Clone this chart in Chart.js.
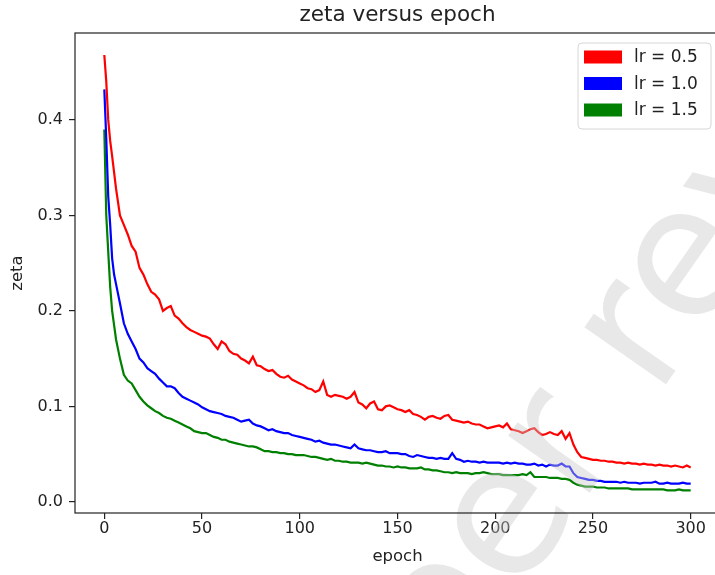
<!DOCTYPE html>
<html>
<head>
<meta charset="utf-8">
<title>zeta versus epoch</title>
<script src="https://cdn.jsdelivr.net/npm/chart.js@4.4.1/dist/chart.umd.min.js"></script>
<style>
  html, body { margin: 0; padding: 0; background: #fff; overflow: hidden; }
  #wrap { width: 740px; height: 575px; }
</style>
</head>
<body>
<div id="wrap"><canvas id="zeta-chart" width="740" height="575"></canvas></div>
<script>
const chartTitle = 'zeta versus epoch';
const watermarkText = 'Peer review';
const seriesLabels = ['lr = 0.5', 'lr = 1.0', 'lr = 1.5'];
const xTicks = [0, 50, 100, 150, 200, 250, 300];
const yTicks = [0.0, 0.1, 0.2, 0.3, 0.4];

const epochs = [0, 1, 2, 3, 4, 5, 6,
  8, 10, 12, 14, 16, 18, 20, 22, 24, 26,
  28, 30, 32, 34, 36, 38, 40, 42, 44, 46,
  48, 50, 52, 54, 56, 58, 60, 62, 64, 66,
  68, 70, 72, 74, 76, 78, 80, 82, 84, 86,
  88, 90, 92, 94, 96, 98, 100, 102, 104, 106,
  108, 110, 112, 114, 116, 118, 120, 122, 124, 126,
  128, 130, 132, 134, 136, 138, 140, 142, 144, 146,
  148, 150, 152, 154, 156, 158, 160, 162, 164, 166,
  168, 170, 172, 174, 176, 178, 180, 182, 184, 186,
  188, 190, 192, 194, 196, 198, 200, 202, 204, 206,
  208, 210, 212, 214, 216, 218, 220, 222, 224, 226,
  228, 230, 232, 234, 236, 238, 240, 242, 244, 246,
  248, 250, 252, 254, 256, 258, 260, 262, 264, 266,
  268, 270, 272, 274, 276, 278, 280, 282, 284, 286,
  288, 290, 292, 294, 296, 298, 300];

const zetaLr05 = [0.468, 0.440, 0.400, 0.378, 0.362, 0.345, 0.328,
  0.300, 0.290, 0.280, 0.268, 0.262, 0.245, 0.238, 0.228, 0.220, 0.217,
  0.212, 0.200, 0.203, 0.205, 0.195, 0.192, 0.187, 0.183, 0.180, 0.178,
  0.176, 0.174, 0.173, 0.171, 0.165, 0.160, 0.168, 0.165, 0.158, 0.155,
  0.154, 0.150, 0.148, 0.145, 0.152, 0.143, 0.142, 0.139, 0.137, 0.138,
  0.134, 0.131, 0.130, 0.132, 0.128, 0.126, 0.124, 0.122, 0.119, 0.118,
  0.115, 0.117, 0.126, 0.112, 0.110, 0.112, 0.111, 0.110, 0.108, 0.110,
  0.115, 0.104, 0.102, 0.098, 0.103, 0.105, 0.097, 0.096, 0.100, 0.101,
  0.099, 0.097, 0.096, 0.094, 0.096, 0.092, 0.091, 0.089, 0.086, 0.089,
  0.090, 0.088, 0.087, 0.090, 0.091, 0.086, 0.085, 0.084, 0.083, 0.084,
  0.082, 0.081, 0.081, 0.079, 0.077, 0.078, 0.079, 0.080, 0.078, 0.082,
  0.076, 0.075, 0.074, 0.072, 0.074, 0.076, 0.077, 0.073, 0.070, 0.071,
  0.073, 0.071, 0.070, 0.074, 0.066, 0.072, 0.060, 0.052, 0.047, 0.046,
  0.045, 0.044, 0.044, 0.043, 0.043, 0.042, 0.042, 0.041, 0.041, 0.040,
  0.041, 0.040, 0.040, 0.039, 0.040, 0.039, 0.039, 0.038, 0.039, 0.038,
  0.038, 0.037, 0.038, 0.037, 0.036, 0.038, 0.036];

const zetaLr10 = [0.432, 0.380, 0.320, 0.290, 0.255, 0.238, 0.228,
  0.208, 0.187, 0.176, 0.168, 0.160, 0.150, 0.146, 0.140, 0.137, 0.134,
  0.129, 0.125, 0.121, 0.121, 0.119, 0.114, 0.110, 0.108, 0.106, 0.104,
  0.102, 0.099, 0.097, 0.095, 0.094, 0.093, 0.092, 0.090, 0.089, 0.088,
  0.086, 0.084, 0.085, 0.086, 0.082, 0.080, 0.079, 0.077, 0.075, 0.076,
  0.074, 0.073, 0.072, 0.072, 0.070, 0.069, 0.068, 0.067, 0.066, 0.065,
  0.063, 0.064, 0.062, 0.061, 0.060, 0.060, 0.059, 0.058, 0.057, 0.056,
  0.060, 0.056, 0.055, 0.054, 0.054, 0.053, 0.052, 0.052, 0.053, 0.051,
  0.051, 0.051, 0.050, 0.050, 0.048, 0.047, 0.049, 0.048, 0.047, 0.046,
  0.046, 0.045, 0.046, 0.045, 0.045, 0.051, 0.045, 0.044, 0.042, 0.043,
  0.042, 0.042, 0.041, 0.042, 0.041, 0.041, 0.041, 0.041, 0.040, 0.041,
  0.040, 0.041, 0.040, 0.040, 0.039, 0.039, 0.040, 0.038, 0.039, 0.037,
  0.039, 0.038, 0.038, 0.040, 0.037, 0.037, 0.030, 0.026, 0.025, 0.024,
  0.023, 0.023, 0.022, 0.022, 0.021, 0.021, 0.021, 0.021, 0.020, 0.021,
  0.020, 0.020, 0.020, 0.019, 0.020, 0.020, 0.020, 0.021, 0.019, 0.019,
  0.020, 0.019, 0.019, 0.019, 0.020, 0.019, 0.019];

const zetaLr15 = [0.390, 0.300, 0.262, 0.225, 0.200, 0.185, 0.170,
  0.150, 0.133, 0.127, 0.124, 0.117, 0.110, 0.105, 0.101, 0.098, 0.095,
  0.093, 0.090, 0.088, 0.087, 0.085, 0.083, 0.081, 0.079, 0.077, 0.074,
  0.073, 0.072, 0.072, 0.070, 0.068, 0.067, 0.065, 0.065, 0.063, 0.062,
  0.061, 0.060, 0.059, 0.058, 0.058, 0.057, 0.055, 0.053, 0.053, 0.052,
  0.052, 0.051, 0.051, 0.050, 0.050, 0.049, 0.049, 0.049, 0.048, 0.047,
  0.047, 0.046, 0.045, 0.044, 0.045, 0.043, 0.043, 0.042, 0.042, 0.041,
  0.041, 0.041, 0.040, 0.041, 0.040, 0.039, 0.038, 0.038, 0.037, 0.037,
  0.036, 0.037, 0.036, 0.036, 0.035, 0.035, 0.035, 0.036, 0.034, 0.034,
  0.033, 0.033, 0.032, 0.031, 0.031, 0.030, 0.031, 0.030, 0.030, 0.030,
  0.029, 0.030, 0.030, 0.031, 0.030, 0.029, 0.029, 0.029, 0.028, 0.028,
  0.028, 0.028, 0.028, 0.029, 0.028, 0.031, 0.026, 0.026, 0.026, 0.026,
  0.025, 0.025, 0.025, 0.024, 0.024, 0.023, 0.020, 0.018, 0.017, 0.016,
  0.016, 0.016, 0.015, 0.015, 0.015, 0.014, 0.014, 0.014, 0.014, 0.014,
  0.014, 0.013, 0.013, 0.013, 0.013, 0.013, 0.013, 0.013, 0.013, 0.013,
  0.012, 0.012, 0.012, 0.013, 0.012, 0.012, 0.012];

const FONT = '"DejaVu Sans", sans-serif';
const INK = '#222';

function toPoints(values) {
  return epochs.map((e, i) => ({ x: e, y: values[i] }));
}

// big faint rotated text laid over the lines
const watermark = {
  id: 'watermark',
  afterDatasetsDraw(chart) {
    const { ctx } = chart;
    const size = 182;
    ctx.save();
    ctx.font = `${size}px ${FONT}`;
    // anchor on the centre of the "e" just before " review"
    const lead = ctx.measureText('Pe').width + ctx.measureText('e').width / 2;
    ctx.translate(508, 524);
    ctx.rotate(-55 * Math.PI / 180);
    ctx.textAlign = 'left';
    ctx.textBaseline = 'alphabetic';
    ctx.fillStyle = 'rgba(200,200,200,0.42)';
    ctx.fillText(watermarkText, -lead, size * 0.27);
    ctx.restore();
  },
};

// frame, title and legend
const decorations = {
  id: 'decorations',
  afterDraw(chart) {
    const { ctx, chartArea: a } = chart;
    ctx.save();

    ctx.strokeStyle = INK;
    ctx.lineWidth = 1.2;
    ctx.strokeRect(a.left, a.top, a.right - a.left, a.bottom - a.top);

    ctx.fillStyle = INK;
    ctx.font = `21.5px ${FONT}`;
    ctx.textAlign = 'center';
    ctx.textBaseline = 'middle';
    ctx.fillText(chartTitle, (a.left + a.right) / 2, 15);

    const lx = 578, ly = 43, lw = 133, lh = 86;
    ctx.beginPath();
    ctx.roundRect(lx, ly, lw, lh, 4);
    ctx.fillStyle = 'rgba(255,255,255,0.8)';
    ctx.fill();
    ctx.strokeStyle = '#d6d6d6';
    ctx.lineWidth = 1;
    ctx.stroke();
    ctx.font = `17px ${FONT}`;
    ctx.textAlign = 'left';
    chart.data.datasets.forEach((ds, i) => {
      const cy = 57 + i * 26.5;
      ctx.fillStyle = ds.borderColor;
      ctx.fillRect(584, cy - 6.5, 38, 13);
      ctx.fillStyle = INK;
      ctx.fillText(ds.label, 634, cy + 1);
    });

    ctx.restore();
  },
};

const ctx = document.getElementById('zeta-chart').getContext('2d');
new Chart(ctx, {
  type: 'line',
  data: {
    datasets: [
      { label: seriesLabels[0], data: toPoints(zetaLr05), borderColor: '#ff0000' },
      { label: seriesLabels[1], data: toPoints(zetaLr10), borderColor: '#0000ff' },
      { label: seriesLabels[2], data: toPoints(zetaLr15), borderColor: '#008000' },
    ],
  },
  options: {
    responsive: false,
    animation: false,
    layout: { padding: { top: 33, right: 20, left: 0, bottom: 0 } },
    elements: {
      line: { borderWidth: 2.2, tension: 0, fill: false },
      point: { radius: 0 },
    },
    plugins: {
      legend: { display: false },
      title: { display: false },
      tooltip: { enabled: false },
    },
    scales: {
      x: {
        type: 'linear',
        position: 'bottom',
        min: -15,
        max: 315,
        afterFit: (s) => { s.height = 62; },
        afterBuildTicks: (s) => { s.ticks = xTicks.map(v => ({ value: v })); },
        ticks: {
          color: INK, font: { family: FONT, size: 16 }, padding: 0,
          maxRotation: 0, autoSkip: false, callback: (v) => String(v),
        },
        grid: { display: true, drawOnChartArea: false, drawTicks: true, tickLength: 6, color: INK, lineWidth: 1.2 },
        border: { display: false },
        title: { display: true, text: 'epoch', color: INK, font: { family: FONT, size: 16.5 }, padding: { top: 0, bottom: 8 } },
      },
      y: {
        type: 'linear',
        position: 'left',
        min: -0.0117,
        max: 0.491,
        afterFit: (s) => { s.width = 75; },
        afterBuildTicks: (s) => { s.ticks = yTicks.map(v => ({ value: v })); },
        ticks: {
          color: INK, font: { family: FONT, size: 16 }, padding: 6,
          autoSkip: false, callback: (v) => v.toFixed(1),
        },
        grid: { display: true, drawOnChartArea: false, drawTicks: true, tickLength: 6, color: INK, lineWidth: 1.2 },
        border: { display: false },
        title: { display: true, text: 'zeta', color: INK, font: { family: FONT, size: 16.5 }, padding: { top: 8, bottom: 0 } },
      },
    },
  },
  plugins: [watermark, decorations],
});
</script>
</body>
</html>
